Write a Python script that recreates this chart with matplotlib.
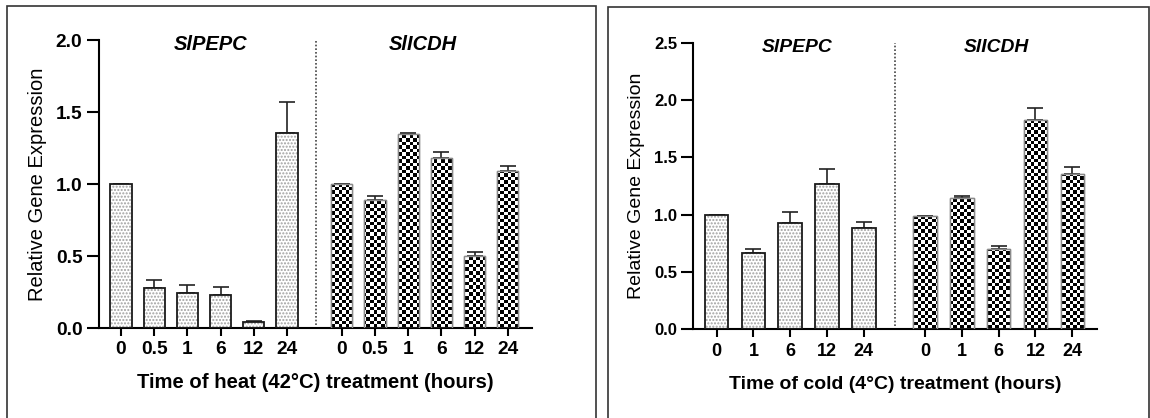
import matplotlib
matplotlib.use("Agg")
import matplotlib.pyplot as plt
from matplotlib.patches import Rectangle
import numpy as np

plt.rcParams["font.family"] = ["Liberation Sans", "DejaVu Sans"]

# heat treatment data
heat_times = ["0", "0.5", "1", "6", "12", "24"]
heat_pepc = [1.0, 0.276, 0.24, 0.227, 0.044, 1.352]
heat_pepc_err = [0.0, 0.057, 0.06, 0.056, 0.006, 0.218]
heat_icdh = [1.0, 0.889, 1.345, 1.18, 0.5, 1.088]
heat_icdh_err = [0.0, 0.028, 0.011, 0.04, 0.026, 0.039]

# cold treatment data
cold_times = ["0", "1", "6", "12", "24"]
cold_pepc = [1.0, 0.668, 0.924, 1.267, 0.883]
cold_pepc_err = [0.0, 0.029, 0.096, 0.13, 0.057]
cold_icdh = [0.99, 1.142, 0.697, 1.825, 1.354]
cold_icdh_err = [0.0, 0.02, 0.032, 0.102, 0.059]

genes = ["SlPEPC", "SlICDH"]


def draw_panel(ax, times, pepc, pepc_err, icdh, icdh_err, offset, divider,
               xlim, ymax, yticks, xlabel, sizes, pads):
    n = len(times)
    x1 = np.arange(n)
    x2 = np.arange(n) + offset
    w = 0.64

    ax.set_xlim(*xlim)
    ax.set_ylim(0, ymax)

    # error bars (upper only), behind bars
    ax.errorbar(x1, pepc, yerr=[np.zeros(n), pepc_err], fmt="none",
                ecolor="#222222", elinewidth=1.2, capsize=5.5, capthick=1.2, zorder=1)
    ax.errorbar(x2, icdh, yerr=[np.zeros(n), icdh_err], fmt="none",
                ecolor="#222222", elinewidth=1.2, capsize=5.5, capthick=1.2, zorder=1)

    # dotted bars
    ax.bar(x1, pepc, width=w, color="white", edgecolor="#a0a0a0", hatch=".....",
           linewidth=0, zorder=2)
    ax.bar(x1, pepc, width=w, fill=False, edgecolor="#1a1a1a", linewidth=1.3, zorder=3)

    # checkerboard bars
    fig = ax.figure
    bb = ax.get_position()
    wpx = bb.width * fig.get_figwidth() * fig.dpi
    hpx = bb.height * fig.get_figheight() * fig.dpi
    cols = int(wpx / 3.5)
    rows = int(hpx / 3.5)
    checker = (np.indices((rows, cols)).sum(axis=0) % 2).astype(float)
    bars = ax.bar(x2, icdh, width=w, color="white", edgecolor="#8a8a8a",
                  linewidth=1.0, zorder=2)
    for b in bars:
        im = ax.imshow(checker, cmap="gray", interpolation="nearest", aspect="auto",
                       extent=(xlim[0], xlim[1], 0, ymax), zorder=2.5, origin="lower")
        im.set_clip_path(b)
        edge = Rectangle(b.get_xy(), b.get_width(), b.get_height(), fill=False,
                         edgecolor="#8a8a8a", linewidth=1.0, zorder=3)
        ax.add_patch(edge)
    ax.set_xlim(*xlim)
    ax.set_ylim(0, ymax)
    ax.set_aspect("auto")

    # divider
    ax.axvline(divider, ymin=0.01, ymax=1.0, color="#444444", linestyle=(0, (1, 1.2)),
               linewidth=1.2)

    # gene names
    ax.text(x1.mean() + 0.2, 0.983, genes[0], transform=ax.get_xaxis_transform(),
            ha="center", va="center", fontsize=sizes["gene"], fontweight="bold",
            style="italic")
    ax.text(x2.mean() - 0.05, 0.983, genes[1], transform=ax.get_xaxis_transform(),
            ha="center", va="center", fontsize=sizes["gene"], fontweight="bold",
            style="italic")

    ax.set_xticks(np.concatenate([x1, x2]))
    ax.set_xticklabels(times + times, fontweight="bold", fontsize=sizes["xtick"])
    ax.set_yticks(yticks)
    ax.set_yticklabels(["%.1f" % v for v in yticks], fontweight="bold",
                       fontsize=sizes["ytick"])

    ax.spines["top"].set_visible(False)
    ax.spines["right"].set_visible(False)
    ax.spines["left"].set_linewidth(1.5)
    ax.spines["bottom"].set_linewidth(1.5)
    ax.tick_params(axis="x", length=5.5, width=1.5, pad=pads["xtick"])
    ax.tick_params(axis="y", length=8.5, width=1.5, pad=pads["ytick"])
    ax.set_xlabel(xlabel, fontsize=sizes["xlabel"], fontweight="bold",
                  labelpad=pads["xlabel"])
    ax.set_ylabel("Relative Gene Expression", fontsize=sizes["ylabel"],
                  labelpad=pads["ylabel"])


fig = plt.figure(figsize=(11.5, 4.18), dpi=100)
fig.patch.set_facecolor("white")

ax1 = fig.add_axes([0.0861, 0.2153, 0.3765, 0.689])
draw_panel(ax1, heat_times, heat_pepc, heat_pepc_err, heat_icdh, heat_icdh_err,
           offset=6.65, divider=5.87, xlim=(-0.66, 12.38), ymax=2.0,
           yticks=[0.0, 0.5, 1.0, 1.5, 2.0],
           xlabel="Time of heat (42\u00b0C) treatment (hours)",
           sizes=dict(gene=14.5, xtick=13.8, ytick=13.8, xlabel=14.6, ylabel=14.5),
           pads=dict(xtick=4, ytick=3.4, xlabel=11, ylabel=6.3))

ax2 = fig.add_axes([0.6026, 0.2122, 0.3513, 0.6857])
draw_panel(ax2, cold_times, cold_pepc, cold_pepc_err, cold_icdh, cold_icdh_err,
           offset=5.66, divider=4.85, xlim=(-0.64, 10.33), ymax=2.5,
           yticks=[0.0, 0.5, 1.0, 1.5, 2.0, 2.5],
           xlabel="Time of cold (4\u00b0C) treatment (hours)",
           sizes=dict(gene=13.9, xtick=13, ytick=12, xlabel=14, ylabel=14),
           pads=dict(xtick=4.3, ytick=3, xlabel=11.5, ylabel=6.5))

# panel frames
fig.add_artist(Rectangle((7 / 1150, -0.05), 589 / 1150, 1.05 - 6 / 418,
                         transform=fig.transFigure, fill=False,
                         edgecolor="#333333", linewidth=1.2))
fig.add_artist(Rectangle((608 / 1150, -0.05), 541 / 1150, 1.05 - 7 / 418,
                         transform=fig.transFigure, fill=False,
                         edgecolor="#333333", linewidth=1.2))

fig.savefig("out.png", dpi=100, facecolor="white")
